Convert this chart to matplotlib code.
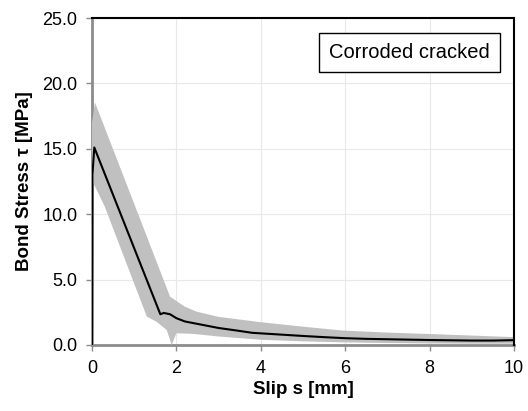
import numpy as np
import matplotlib
matplotlib.use("Agg")
import matplotlib.pyplot as plt

plt.rcParams['font.family'] = ['Liberation Sans', 'DejaVu Sans']

# mean bond stress-slip curve
slip_mean = [0.0, 0.01, 0.055, 1.62, 1.70, 1.85, 2.0, 2.2, 2.6, 3.0, 3.4, 3.8,
             4.2, 4.6, 5.0, 5.5, 6.0, 6.5, 7.0, 7.5, 8.0, 8.5, 9.0, 9.5, 10.0]
tau_mean = [0.0, 13.0, 15.1, 2.35, 2.45, 2.35, 2.05, 1.8, 1.55, 1.3, 1.12, 0.93,
            0.85, 0.77, 0.69, 0.6, 0.52, 0.47, 0.44, 0.41, 0.38, 0.36, 0.34, 0.34, 0.37]

# scatter envelope (upper and lower bounds)
slip_upper = [0.0, 0.07, 1.06, 1.85, 2.2, 2.48, 3.0, 3.98, 5.0, 5.96, 7.0, 8.0, 9.0, 10.0]
tau_upper = [17.0, 18.55, 10.3, 3.7, 2.93, 2.55, 2.15, 1.75, 1.4, 1.1, 0.95, 0.84, 0.72, 0.6]
slip_lower = [0.0, 0.03, 0.3, 1.3, 1.53, 1.77, 1.89, 2.0, 2.4, 3.0, 4.0, 5.0, 6.0, 7.0, 8.0, 9.0, 10.0]
tau_lower = [12.0, 12.4, 10.6, 2.17, 1.78, 1.15, 0.0, 0.9, 0.85, 0.65, 0.4, 0.28, 0.2, 0.15, 0.12, 0.1, 0.1]

x_ticks = [0, 2, 4, 6, 8, 10]
y_ticks = [0.0, 5.0, 10.0, 15.0, 20.0, 25.0]
label_text = "Corroded cracked"

fig = plt.figure(figsize=(5.28, 4.11), dpi=100)
ax = fig.add_axes([0.1742, 0.1606, 0.7993, 0.7956])

# shaded envelope as one polygon
env_x = np.concatenate([slip_upper, slip_lower[::-1]])
env_y = np.concatenate([tau_upper, tau_lower[::-1]])
ax.fill(env_x, env_y, color='#c0c0c0', lw=0, zorder=2)

ax.plot(slip_mean, tau_mean, color='black', lw=1.5, zorder=3)

ax.set_xlim(0, 10)
ax.set_ylim(0, 25)
ax.set_xticks(x_ticks)
ax.set_yticks(y_ticks)
ax.set_yticklabels([f"{v:.1f}" for v in y_ticks])
ax.grid(True, color='#e8e8e8', lw=0.8, zorder=0)
ax.set_axisbelow(True)

for side in ['top', 'right']:
    ax.spines[side].set_color('black')
    ax.spines[side].set_linewidth(1.5)
for side in ['left', 'bottom']:
    ax.spines[side].set_color('#8c8c8c')
    ax.spines[side].set_linewidth(2.0)
    ax.spines[side].set_zorder(1)

ax.tick_params(axis='both', direction='out', length=4.5, width=1.0,
               color='#8c8c8c', labelsize=13, labelcolor='black')
ax.tick_params(axis='x', pad=6)
ax.tick_params(axis='y', pad=6)

ax.set_xlabel("Slip s [mm]", fontsize=13.5, fontweight='bold', labelpad=3)
ax.set_ylabel("Bond Stress \u03c4 [MPa]", fontsize=13.5, fontweight='bold', labelpad=7)

ax.text(0.752, 0.895, label_text, transform=ax.transAxes, ha='center', va='center',
        fontsize=14.5, zorder=5,
        bbox=dict(boxstyle='square,pad=0.5', fc='white', ec='black', lw=1.0))

fig.savefig("out.png", dpi=100)
